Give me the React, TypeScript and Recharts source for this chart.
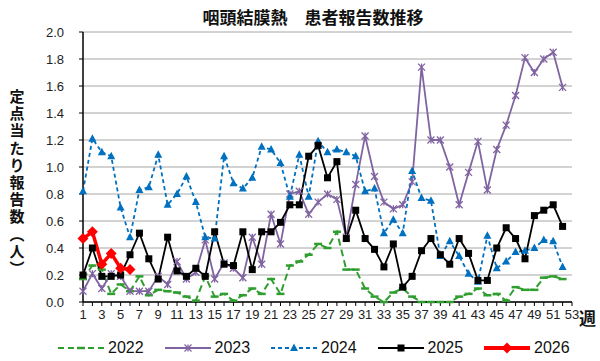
import { LineChart, Line, XAxis, YAxis, CartesianGrid } from "recharts";

// 週 (1〜53)
const weeks = [
  1, 2, 3, 4, 5, 6, 7, 8, 9, 10, 11, 12, 13, 14, 15, 16, 17, 18, 19, 20,
  21, 22, 23, 24, 25, 26, 27, 28, 29, 30, 31, 32, 33, 34, 35, 36, 37, 38, 39, 40,
  41, 42, 43, 44, 45, 46, 47, 48, 49, 50, 51, 52, 53,
];

const y2022 = [
  0.17, 0.27, 0.24, 0.06, 0.13, 0.08, 0.19, 0.05, 0.09, 0.08, 0.07, 0.04, 0.01,
  0.19, 0.04, 0.06, 0.01, 0.05, 0.1, 0.06, 0.17, 0.06, 0.27, 0.3, 0.35, 0.43,
  0.4, 0.52, 0.24, 0.24, 0.1, 0.04, 0.0, 0.07, 0.1, 0.04, 0.0, 0.0, 0.0, 0.0,
  0.04, 0.06, 0.1, 0.05, 0.06, 0.01, 0.11, 0.09, 0.09, 0.18, 0.19, 0.17,
];

const y2023 = [
  0.08, 0.21, 0.1, 0.21, 0.19, 0.08, 0.08, 0.08, 0.19, 0.13, 0.3, 0.17, 0.22,
  0.46, 0.17, 0.29, 0.25, 0.18, 0.48, 0.28, 0.65, 0.43, 0.8, 0.82, 0.65, 0.74,
  0.8, 0.76, 0.48, 0.87, 1.23, 0.93, 0.74, 0.69, 0.72, 0.89, 1.74, 1.2, 1.2, 1.0,
  0.72, 0.96, 1.19, 0.83, 1.13, 1.31, 1.53, 1.81, 1.7, 1.8, 1.85, 1.59,
];

const y2024 = [
  0.82, 1.21, 1.11, 1.08, 0.7, 0.48, 0.83, 0.85, 1.09, 0.72, 0.8, 0.93, 0.74,
  0.48, 0.47, 1.08, 0.88, 0.84, 0.92, 1.15, 1.13, 1.03, 0.78, 1.09, 0.78, 1.19,
  1.11, 1.13, 1.11, 1.08, 0.82, 0.84, 0.51, 0.61, 0.51, 0.97, 0.77, 0.75, 0.34,
  0.45, 0.34, 0.21, 0.15, 0.49, 0.25, 0.3, 0.37, 0.38, 0.4, 0.46, 0.45, 0.26,
];

const y2025 = [
  0.2, 0.4, 0.19, 0.19, 0.2, 0.35, 0.51, 0.32, 0.17, 0.48, 0.23, 0.19, 0.25,
  0.19, 0.52, 0.28, 0.27, 0.52, 0.24, 0.52, 0.52, 0.59, 0.72, 0.72, 1.08, 1.16,
  0.92, 1.04, 0.47, 0.68, 0.47, 0.39, 0.26, 0.43, 0.11, 0.19, 0.38, 0.47, 0.35,
  0.28, 0.47, 0.36, 0.16, 0.16, 0.4, 0.55, 0.47, 0.32, 0.64, 0.68, 0.72, 0.56,
];

const y2026 = [0.47, 0.52, 0.28, 0.36, 0.25, 0.24];

const yTicks = [0, 0.2, 0.4, 0.6, 0.8, 1.0, 1.2, 1.4, 1.6, 1.8, 2.0];

const data = weeks.map((w, i) => ({
  week: w,
  y2022: y2022[i] ?? null,
  y2023: y2023[i] ?? null,
  y2024: y2024[i] ?? null,
  y2025: y2025[i] ?? null,
  y2026: y2026[i] ?? null,
}));

const GREEN = "#2f9e2f";
const PURPLE = "#8064a2";
const BLUE = "#0070c0";
const BLACK = "#000000";
const RED = "#ff0000";

const ok = (p: any) => p.cx != null && p.cy != null && p.value != null;

const DashDot = (p: any) =>
  ok(p) ? (
    <line key={p.index} x1={p.cx - 4} x2={p.cx + 4} y1={p.cy} y2={p.cy} stroke={GREEN} strokeWidth={2.5} />
  ) : (
    <g key={p.index} />
  );

const StarDot = (p: any) =>
  ok(p) ? (
    <g key={p.index} stroke={PURPLE} strokeWidth={1.3}>
      <line x1={p.cx - 3.5} y1={p.cy - 3.5} x2={p.cx + 3.5} y2={p.cy + 3.5} />
      <line x1={p.cx - 3.5} y1={p.cy + 3.5} x2={p.cx + 3.5} y2={p.cy - 3.5} />
      <line x1={p.cx} y1={p.cy - 3.5} x2={p.cx} y2={p.cy + 3.5} />
    </g>
  ) : (
    <g key={p.index} />
  );

const TriDot = (p: any) =>
  ok(p) ? (
    <path key={p.index} d={`M${p.cx},${p.cy - 4.5}L${p.cx + 4},${p.cy + 3}L${p.cx - 4},${p.cy + 3}Z`} fill={BLUE} />
  ) : (
    <g key={p.index} />
  );

const SquareDot = (p: any) =>
  ok(p) ? (
    <rect key={p.index} x={p.cx - 3.5} y={p.cy - 3.5} width={7} height={7} fill={BLACK} />
  ) : (
    <g key={p.index} />
  );

const DiamondDot = (p: any) =>
  ok(p) ? (
    <path key={p.index} d={`M${p.cx},${p.cy - 5.5}L${p.cx + 5.5},${p.cy}L${p.cx},${p.cy + 5.5}L${p.cx - 5.5},${p.cy}Z`} fill={RED} />
  ) : (
    <g key={p.index} />
  );

const WeekTick = (p: any) => {
  const v = p.payload.value;
  if (v % 2 === 0) return <g />;
  return (
    <text x={p.x} y={p.y} dy="0.71em" textAnchor="middle" fontSize={13} fill="#222" fontFamily="Liberation Sans, Arial, sans-serif">
      {v}
    </text>
  );
};

const legendItems = [
  { name: "2022", color: GREEN, dash: "6 4", width: 2, marker: "dash" },
  { name: "2023", color: PURPLE, dash: undefined, width: 2, marker: "star" },
  { name: "2024", color: BLUE, dash: "4 3", width: 2, marker: "tri" },
  { name: "2025", color: BLACK, dash: undefined, width: 2, marker: "square" },
  { name: "2026", color: RED, dash: undefined, width: 4, marker: "diamond" },
];

const LegendMarker = ({ kind, color }: { kind: string; color: string }) => {
  const cx = 23;
  const cy = 8;
  if (kind === "dash") return <line x1={cx - 4} x2={cx + 4} y1={cy} y2={cy} stroke={color} strokeWidth={2.5} />;
  if (kind === "star")
    return (
      <g stroke={color} strokeWidth={1.3}>
        <line x1={cx - 3.5} y1={cy - 3.5} x2={cx + 3.5} y2={cy + 3.5} />
        <line x1={cx - 3.5} y1={cy + 3.5} x2={cx + 3.5} y2={cy - 3.5} />
        <line x1={cx} y1={cy - 3.5} x2={cx} y2={cy + 3.5} />
      </g>
    );
  if (kind === "tri") return <path d={`M${cx},${cy - 4.5}L${cx + 4},${cy + 3}L${cx - 4},${cy + 3}Z`} fill={color} />;
  if (kind === "square") return <rect x={cx - 3.5} y={cy - 3.5} width={7} height={7} fill={color} />;
  return <path d={`M${cx},${cy - 5.5}L${cx + 5.5},${cy}L${cx},${cy + 5.5}L${cx - 5.5},${cy}Z`} fill={color} />;
};

export default function App() {
  return (
    <div style={{ position: "absolute", left: 0, top: 0, width: 600, height: 361, background: "#fff", fontFamily: "Liberation Sans, Arial, sans-serif" }}>
      <LineChart width={600} height={361} data={data} margin={{ top: 32, right: 28, bottom: 34, left: 33 }}>
        <CartesianGrid vertical={false} stroke="#a6a6a6" strokeWidth={1} />
        <XAxis
          dataKey="week"
          interval={0}
          tick={<WeekTick />}
          tickSize={4}
          tickMargin={4}
          height={25}
          axisLine={{ stroke: "#000", strokeWidth: 1.5 }}
          tickLine={{ stroke: "#000" }}
        />
        <XAxis xAxisId="top" dataKey="week" orientation="top" height={0} tick={false} tickLine={false} axisLine={{ stroke: "#000", strokeWidth: 1.5 }} />
        <YAxis
          domain={[0, 2]}
          ticks={yTicks}
          interval={0}
          width={50}
          tickSize={4}
          tickMargin={15}
          tickFormatter={(v: number) => v.toFixed(1)}
          tick={{ fontSize: 13, fill: "#222" }}
          axisLine={{ stroke: "#000", strokeWidth: 1.5 }}
          tickLine={{ stroke: "#000" }}
        />
        <YAxis yAxisId="right" orientation="right" width={0} domain={[0, 2]} tick={false} tickLine={false} axisLine={{ stroke: "#000", strokeWidth: 1.5 }} />
        <Line dataKey="y2022" stroke={GREEN} strokeWidth={2} strokeDasharray="7 4" dot={DashDot} activeDot={false} isAnimationActive={false} connectNulls={false} />
        <Line dataKey="y2023" stroke={PURPLE} strokeWidth={1.8} dot={StarDot} activeDot={false} isAnimationActive={false} />
        <Line dataKey="y2024" stroke={BLUE} strokeWidth={1.8} strokeDasharray="4 3" dot={TriDot} activeDot={false} isAnimationActive={false} />
        <Line dataKey="y2025" stroke={BLACK} strokeWidth={1.8} dot={SquareDot} activeDot={false} isAnimationActive={false} />
        <Line dataKey="y2026" stroke={RED} strokeWidth={3.5} dot={DiamondDot} activeDot={false} isAnimationActive={false} />
      </LineChart>
      <div
        style={{
          position: "absolute",
          top: 6,
          left: 0,
          width: 626,
          textAlign: "center",
          fontFamily: "Noto Sans CJK JP",
          fontWeight: 700,
          fontSize: 17,
          lineHeight: "22px",
          color: "#111",
        }}
      >
        咽頭結膜熱　患者報告数推移
      </div>
      <div
        style={{
          position: "absolute",
          top: 87,
          left: 8,
          width: 18,
          textAlign: "center",
          lineBreak: "anywhere",
          wordBreak: "break-all",
          fontFamily: "Noto Sans CJK JP",
          fontWeight: 700,
          fontSize: 15,
          lineHeight: "17.2px",
          color: "#111",
        }}
      >
        定点当たり報告数︵人︶
      </div>
      <div
        style={{
          position: "absolute",
          top: 308,
          left: 579,
          fontFamily: "Noto Sans CJK JP",
          fontWeight: 700,
          fontSize: 17,
          lineHeight: "20px",
          color: "#111",
        }}
      >
        週
      </div>
      {legendItems.map((it, i) => (
        <div key={it.name} style={{ position: "absolute", top: 339, left: 58 + i * 106.5, display: "flex", alignItems: "center" }}>
          <svg width={46} height={16}>
            <line x1={0} x2={46} y1={8} y2={8} stroke={it.color} strokeWidth={it.width} strokeDasharray={it.dash} />
            <LegendMarker kind={it.marker} color={it.color} />
          </svg>
          <span style={{ marginLeft: 4, fontSize: 16, lineHeight: "18px", color: "#111" }}>{it.name}</span>
        </div>
      ))}
    </div>
  );
}
